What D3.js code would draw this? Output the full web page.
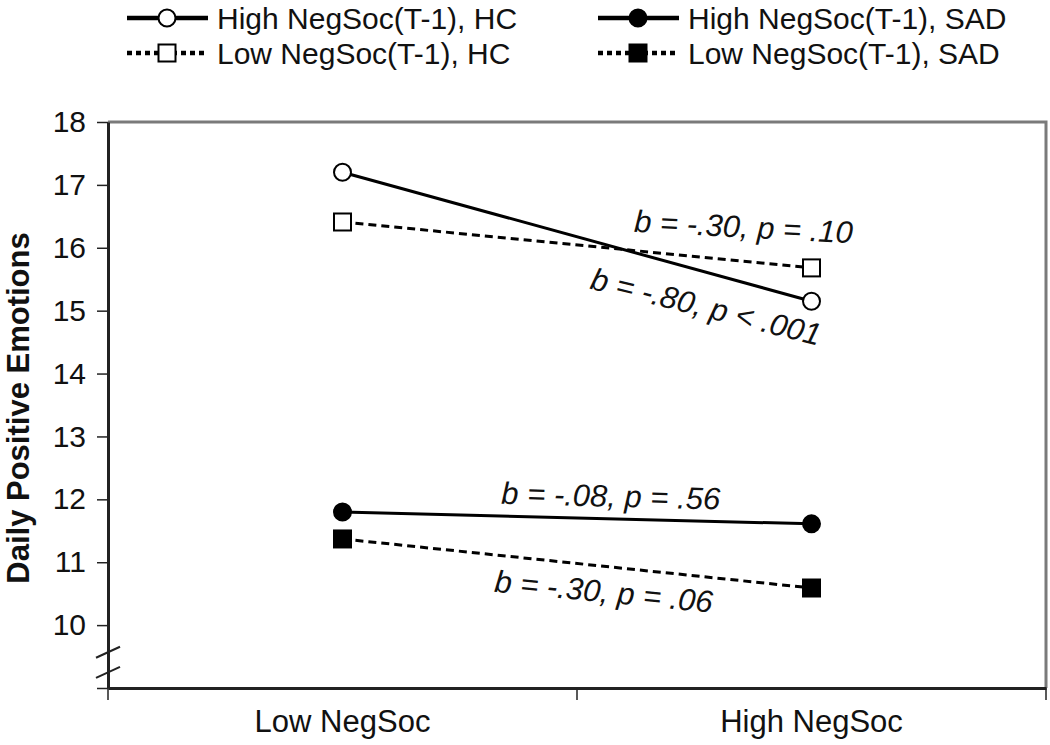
<!DOCTYPE html>
<html><head><meta charset="utf-8">
<script src="https://cdn.jsdelivr.net/npm/d3@7"></script>
<style>body{margin:0;background:#fff} svg{display:block}</style>
</head><body><svg id="chart" width="1050" height="745"></svg>
<script>
// ---- data ----
const categories = ["Low NegSoc", "High NegSoc"];
const seriesNames = ["High NegSoc(T-1), HC", "High NegSoc(T-1), SAD", "Low NegSoc(T-1), HC", "Low NegSoc(T-1), SAD"];
const highHC  = [17.20, 15.15];
const highSAD = [11.80, 11.61];
const lowHC   = [16.41, 15.68];
const lowSAD  = [11.37, 10.59];
const yTicks = [10, 11, 12, 13, 14, 15, 16, 17, 18];
const yTitle = "Daily Positive Emotions";
const noteTexts = ["b = -.30, p = .10", "b = -.80, p < .001", "b = -.08, p = .56", "b = -.30, p = .06"];
const noteX = [0.855, 0.775, 0.572, 0.557];   // fraction between the two categories
const noteY = [16.33, 15.06, 12.05, 10.53];  // value on the y scale

// ---- layout ----
const L = 108, R = 1046, T = 122, B = 688;
const svg = d3.select("#chart");
const font = "'Liberation Sans', Arial, sans-serif";

const x = d3.scaleBand().domain(categories).range([L, R]);
const y = d3.scaleLinear().domain([9, 18]).range([B, T]);
const cx = c => x(c) + x.bandwidth() / 2;

// frame: top and right grey
svg.append("path")
  .attr("d", `M${L},${T}H${R}V${B}`)
  .attr("fill", "none").attr("stroke", "#7a7a7a").attr("stroke-width", 3);

// y axis
const yAxis = svg.append("g").attr("transform", `translate(${L},0)`)
  .call(d3.axisLeft(y).tickValues([9].concat(yTicks)).tickSize(11).tickSizeOuter(0)
    .tickFormat(d => d === 9 ? "" : d));
yAxis.select(".domain").attr("stroke", "#222").attr("stroke-width", 3);
yAxis.selectAll(".tick line").attr("stroke", "#222").attr("stroke-width", 1.5);
yAxis.selectAll(".tick text").attr("font-family", font).attr("font-size", 30).attr("fill", "#111").attr("x", -22);

// x axis
const xAxis = svg.append("g").attr("transform", `translate(0,${B})`)
  .call(d3.axisBottom(x).tickSize(0).tickSizeOuter(0));
xAxis.select(".domain").attr("stroke", "#222").attr("stroke-width", 3);
xAxis.selectAll(".tick text").attr("font-family", font).attr("font-size", 31).attr("fill", "#111").attr("dy", "1.32em");
// boundary ticks of the category axis
const bounds = [L, x(categories[1]), R];
svg.append("g").selectAll("line").data(bounds).join("line")
  .attr("x1", d => d).attr("x2", d => d).attr("y1", B).attr("y2", B + 12)
  .attr("stroke", "#222").attr("stroke-width", 1.5);

// axis break marks
[9.56, 9.24].forEach(v => {
  svg.append("line")
    .attr("x1", L - 12).attr("y1", y(v) + 5)
    .attr("x2", L + 12).attr("y2", y(v) - 6)
    .attr("stroke", "#222").attr("stroke-width", 2);
});

// y title
svg.append("text")
  .attr("transform", `translate(29,${(T + B) / 2 + 3}) rotate(-90)`)
  .attr("text-anchor", "middle")
  .attr("font-family", font).attr("font-weight", "bold").attr("font-size", 31).attr("fill", "#111")
  .text(yTitle);

// series
const series = [
  {name: seriesNames[0], values: highHC,  dash: null,  shape: "circle", fill: "#fff"},
  {name: seriesNames[1], values: highSAD, dash: null,  shape: "circle", fill: "#000"},
  {name: seriesNames[2], values: lowHC,   dash: "8,5", shape: "square", fill: "#fff"},
  {name: seriesNames[3], values: lowSAD,  dash: "8,5", shape: "square", fill: "#000"}
];
const line = d3.line().x((d, i) => cx(categories[i])).y(d => y(d));

function marker(g, shape, fill, px, py) {
  if (shape === "circle") {
    g.append("circle").attr("cx", px).attr("cy", py).attr("r", 8.5)
      .attr("fill", fill).attr("stroke", "#000").attr("stroke-width", 2);
  } else {
    g.append("rect").attr("x", px - 8.5).attr("y", py - 8.5).attr("width", 17).attr("height", 17)
      .attr("fill", fill).attr("stroke", "#000").attr("stroke-width", 2);
  }
}

series.forEach(s => {
  const g = svg.append("g");
  g.append("path").attr("d", line(s.values)).attr("fill", "none")
    .attr("stroke", "#000").attr("stroke-width", 3)
    .attr("stroke-dasharray", s.dash);
  s.values.forEach((v, i) => marker(g, s.shape, s.fill, cx(categories[i]), y(v)));
});

// annotations
const x0 = cx(categories[0]), x1 = cx(categories[1]);
const notes = noteTexts.map((t, i) => ({t, fx: noteX[i], v: noteY[i]}));
const angles = [3, 14, 1.5, 5.5];
notes.forEach((n, i) => {
  const px = x0 + n.fx * (x1 - x0), py = y(n.v);
  svg.append("text")
    .attr("transform", `translate(${px},${py}) rotate(${angles[i]})`)
    .attr("text-anchor", "middle").attr("dominant-baseline", "central")
    .attr("font-family", font).attr("font-style", "italic").attr("font-size", 31).attr("fill", "#111")
    .text(n.t);
});

// legend
const legendCols = [127, 598];
const legendRows = [18, 53];
const legendOrder = [[0, 0, 0], [1, 1, 0], [2, 0, 1], [3, 1, 1]];
legendOrder.forEach(([si, c, r]) => {
  const s = series[si];
  const g = svg.append("g");
  const lx = legendCols[c], ly = legendRows[r];
  g.append("line").attr("x1", lx).attr("x2", lx + 81).attr("y1", ly).attr("y2", ly)
    .attr("stroke", "#000").attr("stroke-width", 4.5)
    .attr("stroke-dasharray", s.dash ? "5,4" : null);
  marker(g, s.shape, s.fill, lx + 40, ly);
  g.append("text").attr("x", lx + 90).attr("y", ly).attr("dominant-baseline", "central")
    .attr("font-family", font).attr("font-size", 30).attr("fill", "#111").text(s.name);
});
</script>
</body></html>
